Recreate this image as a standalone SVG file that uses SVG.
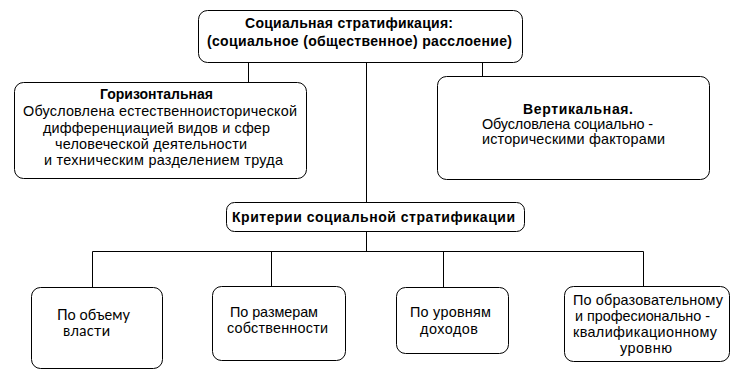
<svg xmlns="http://www.w3.org/2000/svg" width="751" height="378" viewBox="0 0 751 378">
<style>
.box{fill:#fff;stroke:#000;stroke-width:1}
.ln{stroke:#000;stroke-width:1;fill:none}
text{font-family:"Liberation Sans",Arial,sans-serif;font-size:14.4px;fill:#000}
.b{font-weight:bold;font-size:14px}
.c{font-family:Lato,"Open Sans",sans-serif;font-size:14.5px}
</style>
<rect width="751" height="378" fill="#fff"/>
<g id="connectors">
<path class="ln" d="M248.5 62V82M366.5 62V202M482.5 62V76M366.5 231V251.5M92.5 251.5H643.5M92.5 251.5V287M271.5 251.5V286M443.5 251.5V287M643.5 251.5V286"/>
</g>
<g id="top">
<rect class="box" x="198.5" y="10.5" width="324" height="52" rx="9"/>
<text class="b" x="245" y="28" textLength="208">Социальная стратификация:</text>
<text class="b" x="207" y="46" textLength="305">(социальное (общественное) расслоение)</text>
</g>
<g id="horizontal">
<rect class="box" x="14.5" y="82.5" width="292" height="96" rx="9"/>
<text class="b" x="100" y="99" textLength="113">Горизонтальная</text>
<text x="23" y="116" textLength="274">Обусловлена естественноисторической</text>
<text x="43" y="133" textLength="227">дифференциацией видов и сфер</text>
<text x="55" y="149" textLength="192">человеческой деятельности</text>
<text x="44" y="165" textLength="239">и техническим разделением труда</text>
</g>
<g id="vertical">
<rect class="box" x="437.5" y="76.5" width="272" height="103" rx="9"/>
<text class="b" x="523" y="114" textLength="110">Вертикальная.</text>
<text x="482" y="129" textLength="171">Обусловлена социально -</text>
<text x="482" y="144" textLength="183">историческими факторами</text>
</g>
<g id="criteria">
<rect class="box" x="226.5" y="202.5" width="298" height="29" rx="8"/>
<text class="b" x="232" y="222" textLength="283">Критерии социальной стратификации</text>
</g>
<g id="power">
<rect class="box" x="31.5" y="287.5" width="131" height="81" rx="9"/>
<text class="c" x="57" y="320" textLength="73">По объему</text>
<text class="c" x="63" y="336" textLength="47">власти</text>
</g>
<g id="property">
<rect class="box" x="212.5" y="286.5" width="133" height="74" rx="9"/>
<text x="230" y="317" textLength="88">По размерам</text>
<text x="227" y="333" textLength="101">собственности</text>
</g>
<g id="income">
<rect class="box" x="396.5" y="287.5" width="112" height="66" rx="9"/>
<text x="410" y="317" textLength="81">По уровням</text>
<text x="420" y="334" textLength="58">доходов</text>
</g>
<g id="education">
<rect class="box" x="564.5" y="286.5" width="165" height="75" rx="9"/>
<text x="573" y="305" textLength="150">По образовательному</text>
<text x="575" y="321" textLength="135">и професионально -</text>
<text x="573" y="337" textLength="144">квалификационному</text>
<text x="620" y="353" textLength="52">уровню</text>
</g>
</svg>
